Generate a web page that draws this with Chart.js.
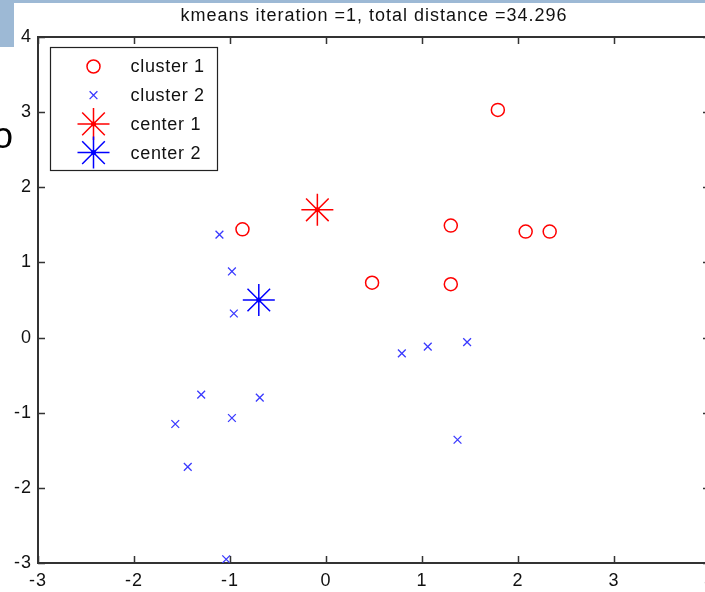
<!DOCTYPE html>
<html>
<head>
<meta charset="utf-8">
<title>kmeans iteration 1</title>
<script src="https://cdn.jsdelivr.net/npm/chart.js@4/dist/chart.umd.min.js"></script>
<style>
  html, body { margin: 0; padding: 0; background: #fff; overflow: hidden; }
  #wrap { width: 720px; height: 592px; }
</style>
</head>
<body>
<div id="wrap"><canvas id="kmeansChart" width="720" height="592"></canvas></div>
<script>
/* -------------------------------------------------------
   DATA
------------------------------------------------------- */
const titleText = "kmeans iteration =1, total distance =34.296";
const seriesLabels = ["cluster 1", "cluster 2", "center 1", "center 2"];

const cluster1X = [1.79, 1.30, 2.08, 2.33, -0.87, 0.48, 1.30];
const cluster1Y = [3.03, 1.49, 1.41, 1.41, 1.44, 0.73, 0.71];

const cluster2X = [-1.11, -0.98, -0.96, 0.79, 1.06, 1.47, 1.37, -1.30, -0.69, -0.98, -1.57, -1.44, -1.04];
const cluster2Y = [1.37, 0.88, 0.32, -0.21, -0.12, -0.06, -1.36, -0.76, -0.80, -1.07, -1.15, -1.72, -2.95];

const center1 = [-0.09, 1.70];
const center2 = [-0.70, 0.50];

const xTicks = [-3, -2, -1, 0, 1, 2, 3, 4];
const yTicks = [-3, -2, -1, 0, 1, 2, 3, 4];

const toPoints = (xs, ys) => xs.map((x, i) => ({ x: x, y: ys[i] }));

Chart.defaults.font.family = '"Liberation Sans", Arial, sans-serif';
Chart.defaults.color = "#111";

const AXIS = "#333";
const RED = "#ff0000";
const BLUE = "#0000ff";
const LIGHT_BLUE = "#3a3aff";

/* -------------------------------------------------------
   PLUGINS: matlab style box, inward ticks, legend, slide bits
------------------------------------------------------- */
const matlabFrame = {
  id: "matlabFrame",
  beforeDraw(chart) {
    // bitmap-ish spacing of the matlab fonts
    chart.ctx.letterSpacing = "1px";
  },
  afterDatasetsDraw(chart) {
    const ctx = chart.ctx;
    // small dot in the middle of each center asterisk
    [2, 3].forEach(i => {
      const color = chart.data.datasets[i].borderColor;
      chart.getDatasetMeta(i).data.forEach(pt => {
        ctx.save();
        ctx.fillStyle = color;
        ctx.beginPath();
        ctx.arc(pt.x, pt.y, 2.5, 0, Math.PI * 2);
        ctx.fill();
        ctx.restore();
      });
    });
  },
  afterDraw(chart) {
    const ctx = chart.ctx;
    const a = chart.chartArea;
    const xs = chart.scales.x;
    const ys = chart.scales.y;
    const tick = 7;

    ctx.save();
    ctx.strokeStyle = AXIS;
    ctx.lineWidth = 2;
    ctx.beginPath();
    ctx.moveTo(a.left, a.top);
    ctx.lineTo(a.right, a.top);
    ctx.lineTo(a.right, a.bottom);
    ctx.stroke();

    // inward ticks on all four sides
    ctx.lineWidth = 1.5;
    ctx.beginPath();
    xTicks.forEach(v => {
      const px = Math.round(xs.getPixelForValue(v)) + 0.5;
      ctx.moveTo(px, a.bottom); ctx.lineTo(px, a.bottom - tick);
      ctx.moveTo(px, a.top); ctx.lineTo(px, a.top + tick);
    });
    yTicks.forEach(v => {
      const py = Math.round(ys.getPixelForValue(v)) + 0.5;
      ctx.moveTo(a.left, py); ctx.lineTo(a.left + tick, py);
      ctx.moveTo(a.right, py); ctx.lineTo(a.right - tick, py);
    });
    ctx.stroke();

    // legend box
    const bx = a.left + 12.5, by = a.top + 10.5, bw = 167, bh = 123;
    ctx.fillStyle = "#fff";
    ctx.fillRect(bx, by, bw, bh);
    ctx.strokeStyle = "#222";
    ctx.lineWidth = 1.2;
    ctx.strokeRect(bx, by, bw, bh);

    ctx.letterSpacing = "0.7px";
    ctx.font = '18px "Liberation Sans", Arial, sans-serif';
    ctx.textBaseline = "middle";
    ctx.textAlign = "left";
    chart.data.datasets.forEach((ds, i) => {
      const cy = by + 19 + i * 28.7;
      const mx = bx + 43;
      ctx.strokeStyle = ds.borderColor;
      ctx.fillStyle = "rgba(0,0,0,0)";
      ctx.lineWidth = ds.borderWidth;
      Chart.helpers.drawPoint(ctx, {
        pointStyle: ds.pointStyle,
        radius: ds.pointRadius,
        rotation: 0,
        borderWidth: ds.borderWidth
      }, mx, cy);
      if (i >= 2) {
        ctx.fillStyle = ds.borderColor;
        ctx.beginPath();
        ctx.arc(mx, cy, 2.5, 0, Math.PI * 2);
        ctx.fill();
      }
      ctx.fillStyle = "#111";
      ctx.fillText(ds.label, bx + 80, cy + 1);
    });

    // bits of the surrounding slide that show in the screenshot
    ctx.letterSpacing = "0px";
    ctx.fillStyle = "#9db9d5";
    ctx.fillRect(0, 0, chart.width, 3);
    ctx.fillRect(0, 0, 14, 47);
    ctx.fillStyle = "#000";
    ctx.font = '36px "Liberation Sans", Arial, sans-serif';
    ctx.textBaseline = "alphabetic";
    ctx.fillText("o", -7, 148);
    ctx.restore();
  }
};

/* -------------------------------------------------------
   SCATTER CHART
------------------------------------------------------- */
const ctx = document.getElementById("kmeansChart").getContext("2d");

new Chart(ctx, {
  type: "scatter",
  data: {
    datasets: [
      {
        label: seriesLabels[0],
        data: toPoints(cluster1X, cluster1Y),
        pointStyle: "circle",
        pointRadius: 6.5,
        borderColor: RED,
        backgroundColor: "rgba(0,0,0,0)",
        borderWidth: 1.5
      },
      {
        label: seriesLabels[1],
        data: toPoints(cluster2X, cluster2Y),
        pointStyle: "crossRot",
        pointRadius: 5.5,
        borderColor: LIGHT_BLUE,
        backgroundColor: LIGHT_BLUE,
        borderWidth: 1.3
      },
      {
        label: seriesLabels[2],
        data: [{ x: center1[0], y: center1[1] }],
        pointStyle: "star",
        pointRadius: 16,
        borderColor: RED,
        backgroundColor: RED,
        borderWidth: 1.5
      },
      {
        label: seriesLabels[3],
        data: [{ x: center2[0], y: center2[1] }],
        pointStyle: "star",
        pointRadius: 16,
        borderColor: BLUE,
        backgroundColor: BLUE,
        borderWidth: 1.5
      }
    ]
  },

  options: {
    responsive: false,
    animation: false,
    events: [],
    // point radius must not shrink the plot box
    layout: { autoPadding: false, padding: { right: 10 } },

    plugins: {
      legend: { display: false },
      tooltip: { enabled: false },
      title: {
        display: true,
        text: titleText,
        fullSize: false,
        color: "#111",
        font: { size: 18, weight: "normal" },
        padding: { top: 5, bottom: 10.4 }
      }
    },

    scales: {
      x: {
        type: "linear",
        min: xTicks[0],
        max: xTicks[xTicks.length - 1],
        afterBuildTicks: s => { s.ticks = xTicks.map(v => ({ value: v })); },
        afterFit: s => { s.height = 29; s.paddingLeft = 0; s.paddingRight = 0; },
        grid: { display: false, drawTicks: false },
        border: { display: true, color: AXIS, width: 2 },
        ticks: { color: "#111", font: { size: 18 }, padding: 7, maxRotation: 0 }
      },
      y: {
        type: "linear",
        min: yTicks[0],
        max: yTicks[yTicks.length - 1],
        afterBuildTicks: s => { s.ticks = yTicks.map(v => ({ value: v })); },
        afterFit: s => { s.width = 38; s.paddingTop = 0; s.paddingBottom = 0; },
        grid: { display: false, drawTicks: false },
        border: { display: true, color: AXIS, width: 2 },
        ticks: { color: "#111", font: { size: 18 }, padding: 6 }
      }
    }
  },

  plugins: [matlabFrame]
});
</script>
</body>
</html>
